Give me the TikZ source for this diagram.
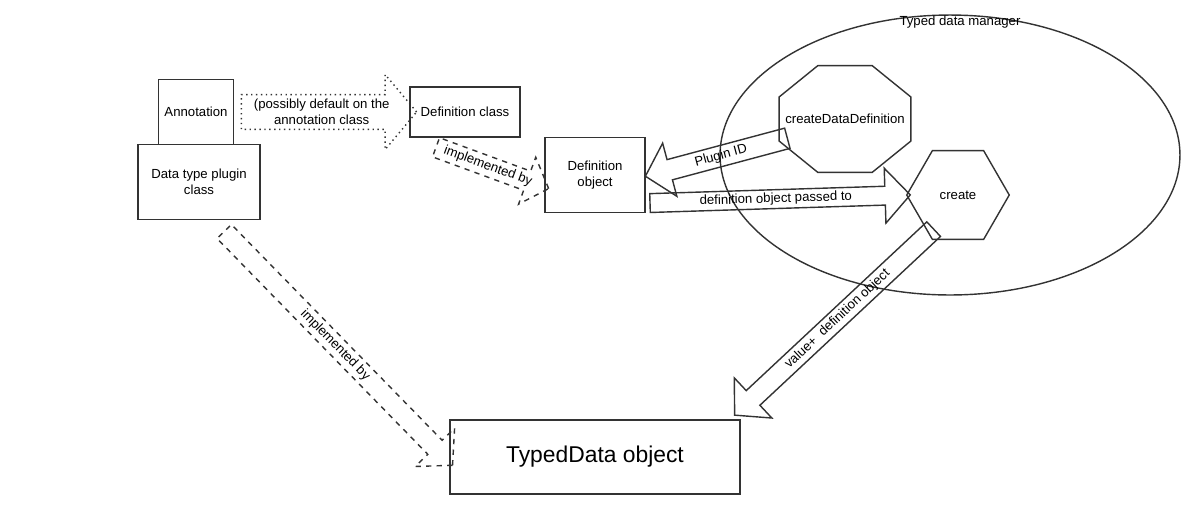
\documentclass[tikz,border=0pt]{standalone}
\usepackage{fontspec}
\setmainfont{Liberation Sans}
\usetikzlibrary{calc,positioning,shapes.geometric,shapes.arrows}
\tikzstyle{box}     = [rectangle, draw=black!80, thick, text centered, align=center, font=\fontsize{7.5}{9}\selectfont]
\tikzstyle{blockarrow} = [single arrow, draw=black!80, thick, inner sep=1pt, align=center, font=\fontsize{7.5}{9}\selectfont]
% block arrow from #2 to #3, width #4 (head), #5 (head extend), #6 tip angle, #7 text
\newcommand{\barrow}[7][]{%
  \path let \p1=(#2), \p2=(#3), \n1={atan2(\y2-\y1,\x2-\x1)}, \n2={veclen(\x2-\x1,\y2-\y1)} in
    node[blockarrow, #1, rotate=\n1, minimum height=\n2, minimum width=#4, single arrow head extend=#5, single arrow tip angle=#6] at ($(\p1)!0.5!(\p2)$) {#7};}
\newcommand{\barrowrev}[7][]{%
  \path let \p1=(#3), \p2=(#2), \n1={atan2(\y2-\y1,\x2-\x1)}, \n2={veclen(\x2-\x1,\y2-\y1)} in
    node[blockarrow, #1, rotate=\n1, shape border rotate=180, minimum height=\n2, minimum width=#4, single arrow head extend=#5, single arrow tip angle=#6] at ($(\p1)!0.5!(\p2)$) {#7};}

\begin{document}
\begin{tikzpicture}[x=0.02cm, y=-0.02cm]
        \useasboundingbox (0,0) rectangle (1200,515);
        \node (manager) [ellipse, draw=black!80, thick, minimum width=9.2cm, minimum height=5.6cm] at (950,155) {};
        \node (managerlbl) [font=\fontsize{7.5}{9}\selectfont] at (960,22) {Typed data manager};

        \node (annot) [box, minimum width=1.46cm, minimum height=1.3cm] at (196,112) {Annotation};
        \node (plugin) [box, minimum width=2.44cm, minimum height=1.5cm] at (199,182) {Data type plugin\\class};
        \node (defclass) [box, minimum width=2.2cm, minimum height=1cm] at (465,112) {Definition class};
        \node (defobj) [box, minimum width=2cm, minimum height=1.5cm] at (595,175) {Definition\\object};
        \node (typed) [box, minimum width=5.8cm, minimum height=1.48cm, font=\fontsize{13}{15}\selectfont] at (595,457) {TypedData object};
        \node (cdd) [regular polygon, regular polygon sides=8, draw=black!80, thick, inner sep=0pt, minimum size=2.85cm, yscale=0.81] at (845,119) {};
        \node (cddlbl) [font=\fontsize{7.5}{9}\selectfont] at (cdd.center) {createDataDefinition};
        \node (create) [regular polygon, regular polygon sides=6, draw=black!80, thick, inner sep=0pt, minimum size=2.05cm, font=\fontsize{7.5}{9}\selectfont] at (958,195) {create};

        \coordinate (pidtip) at (650,175);
        \coordinate (pidtail) at (792,137);
        \coordinate (vtip) at (738,412);
        \coordinate (vtail) at (937,226);

        \barrow[dotted]{annot.east}{defclass.west}{1.5cm}{0.35cm}{100}{(possibly default on the\\annotation class}
        \barrow[dashed]{$(defclass.south west)!0.4!(defclass.south)+(0,8)$}{$(defobj.west)+(0,12)$}{1cm}{0.25cm}{95}{implemented by}
        \barrowrev{pidtail}{pidtip}{1.1cm}{0.28cm}{95}{Plugin ID}
        \barrow{$(defobj.south east)+(0,-10)$}{create.west}{1.1cm}{0.33cm}{95}{definition object passed to}
        \barrowrev{vtail}{vtip}{1.1cm}{0.3cm}{95}{value+\ \ definition object}
        \barrow[dashed]{$(plugin.south)+(22,8)$}{$(typed.west)+(0,5)$}{1.1cm}{0.3cm}{95}{implemented by}
    \end{tikzpicture}
\end{document}
